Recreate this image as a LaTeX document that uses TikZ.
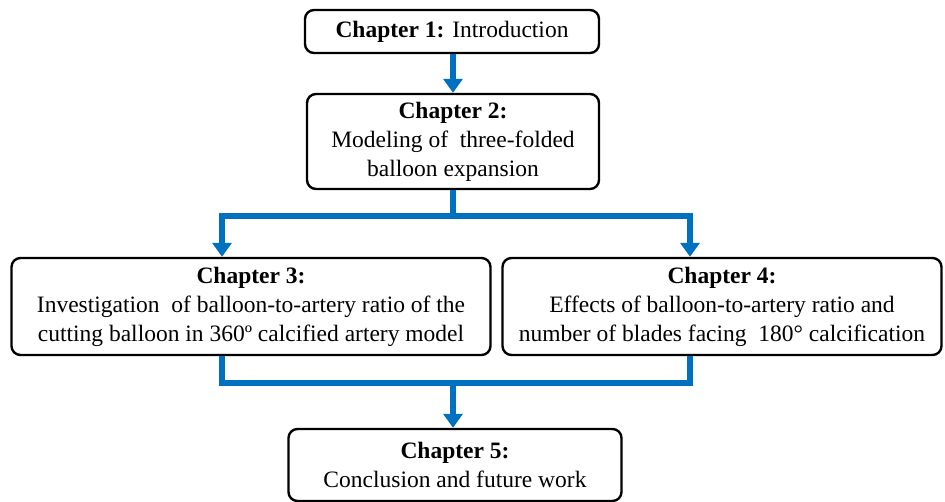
\documentclass[tikz,border=0pt]{standalone}
\usepackage{fontspec}
\setmainfont{Liberation Serif}
\usetikzlibrary{arrows.meta,calc}
\definecolor{flowblue}{RGB}{0,112,192}
\begin{document}
\begin{tikzpicture}[x=1pt,y=-1pt,
  box/.style={draw=black,line width=2.4pt,rounded corners=9pt,fill=white,align=center,
    inner sep=0pt,font=\fontsize{23.5}{29}\selectfont},
  flow/.style={draw=flowblue,line width=6pt},
  arr/.style={flow,-{Triangle[length=14pt,width=19pt]}}]
\useasboundingbox (0,0) rectangle (945,502);
\node[box,minimum width=294pt,minimum height=43pt] (c1) at (452,31.5) {\textbf{Chapter 1:} Introduction};
\node[box,minimum width=292pt,minimum height=95pt] (c2) at (453,141.5) {\textbf{Chapter 2:}\\Modeling of \ three-folded\\balloon expansion};
\node[box,minimum width=479pt,minimum height=97pt] (c3) at (251,306.5) {\textbf{Chapter 3:}\\Investigation \ of balloon-to-artery ratio of the\\cutting balloon in 360º calcified artery model};
\node[box,minimum width=439pt,minimum height=97pt] (c4) at (722,306.5) {\textbf{Chapter 4:}\\Effects of balloon-to-artery ratio and\\number of blades facing \ 180° calcification};
\node[box,minimum width=333pt,minimum height=72pt] (c5) at (455,465) {\textbf{Chapter 5:}\\Conclusion and future work};
\coordinate (xl) at (222,0);
\coordinate (xr) at (690,0);
\coordinate (xm) at (453,0);
\coordinate (j1) at (453,216);
\coordinate (j2) at (453,383);
\draw[arr] (c1.south -| xm) -- (c2.north -| xm);
\draw[flow] (c2.south -| xm) -- (j1);
\draw[arr] (j1) -| (xl |- c3.north);
\draw[arr] (j1) -| (xr |- c4.north);
\draw[flow,line join=miter] (xl |- c3.south) |- (j2) -| (xr |- c4.south);
\draw[arr] (j2) -- (xm |- c5.north);
\end{tikzpicture}
\end{document}
